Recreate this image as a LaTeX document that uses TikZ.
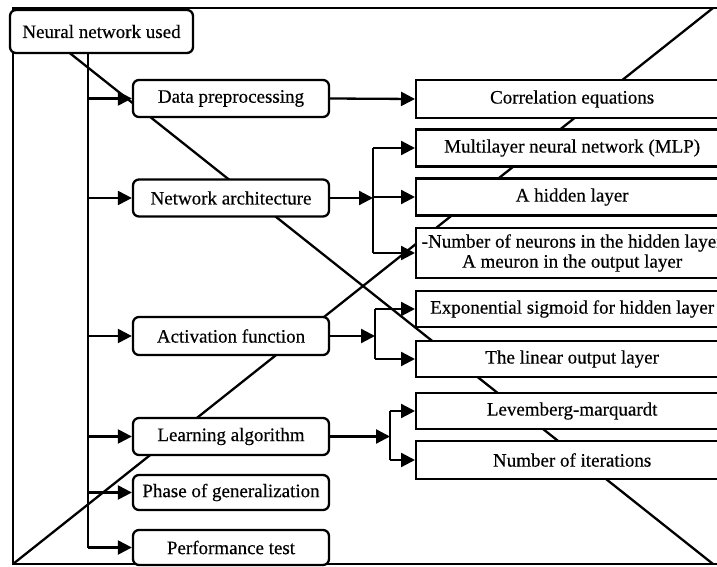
\documentclass[tikz,border=0pt]{standalone}
\usepackage{fontspec}
\setmainfont{Liberation Serif}
\usetikzlibrary{arrows.meta}
\tikzset{
  ln/.style={line width=2.3pt},
  tip/.style={ln,-{Triangle[length=14pt,width=14pt]}},
  txt/.style={font=\fontsize{19}{20}\selectfont\addfontfeatures{FakeBold=0.4}},
  midbox/.style={draw,ln,fill=white,rounded corners=6pt,minimum width=196pt,inner sep=0pt,txt},
  rbox/.style={draw,ln,fill=white,minimum width=312pt,inner sep=0pt,anchor=west,align=center,txt},
}
\begin{document}
\begin{tikzpicture}[x=1pt,y=-1pt]
\useasboundingbox (0,0) rectangle (717,567);
\clip (0,0) rectangle (717,567);
% frame corners
\coordinate (tl) at (13,8);
\coordinate (bl) at (13,564);
\coordinate (tr) at (713,8);
\coordinate (br) at (713,564);
\coordinate (tre) at (730,8);
\coordinate (bre) at (730,564);
\draw[ln] (tre) -- (tl) -- (bl) -- (bre);
\draw[ln] (tl) -- (br);
\draw[ln] (bl) -- (tr);
% bus and junction x positions
\coordinate (bus) at (88,0);
\coordinate (jn) at (373,0);
\coordinate (ja) at (375,0);
\coordinate (jl) at (390,0);
% top node
\node[draw,ln,fill=white,rounded corners=6pt,minimum width=183pt,minimum height=43pt,inner sep=0pt,txt]
  (top) at (101.5,31.5) {Neural network used};
% middle nodes
\node[midbox,minimum height=37pt] (data) at (231,98.5) {Data preprocessing};
\node[midbox,minimum height=37pt] (net) at (231,198) {Network architecture};
\node[midbox,minimum height=38pt] (act) at (231,336) {Activation function};
\node[midbox,minimum height=37pt] (learn) at (231,436.5) {Learning algorithm};
\node[midbox,minimum height=35pt] (phase) at (231,492.5) {Phase of generalization};
\node[midbox,minimum height=35pt] (perf) at (231,547.5) {Performance test};
% right nodes
\node[rbox,minimum height=38pt] (corr) at (415,99) {Correlation equations};
\node[rbox,minimum height=37pt] (mlp) at (415,148) {Multilayer neural network (MLP)};
\node[rbox,minimum height=37pt] (hid) at (415,197) {A hidden layer};
\node[rbox,minimum height=50pt] (neu) at (415,253) {-Number of neurons in the hidden layer\\A meuron in the output layer};
\node[rbox,minimum height=36pt] (exp) at (415,309) {Exponential sigmoid for hidden layer};
\node[rbox,minimum height=36pt] (lin) at (415,359) {The linear output layer};
\node[rbox,minimum height=36pt] (lev) at (415,411) {Levemberg-marquardt};
\node[rbox,minimum height=38pt] (iter) at (415,460) {Number of iterations};
% bus
\draw[ln] (top.south -| bus) -- (perf.west -| bus);
\foreach \n in {data,net,act,learn,phase,perf}
  \draw[tip] (\n.west -| bus) -- (\n.west);
% data -> corr
\draw[tip] (data.east) -- (corr.west);
% network architecture
\draw[tip] (net.east) -- (net.east -| jn);
\draw[ln] (mlp.west -| jn) -- (neu.west -| jn);
\foreach \n in {mlp,hid,neu}
  \draw[tip] (\n.west -| jn) -- (\n.west);
% activation
\draw[tip] (act.east) -- (act.east -| ja);
\draw[ln] (exp.west -| ja) -- (lin.west -| ja);
\foreach \n in {exp,lin}
  \draw[tip] (\n.west -| ja) -- (\n.west);
% learning
\draw[tip] (learn.east) -- (learn.east -| jl);
\draw[ln] (lev.west -| jl) -- (iter.west -| jl);
\foreach \n in {lev,iter}
  \draw[tip] (\n.west -| jl) -- (\n.west);
\end{tikzpicture}
\end{document}
